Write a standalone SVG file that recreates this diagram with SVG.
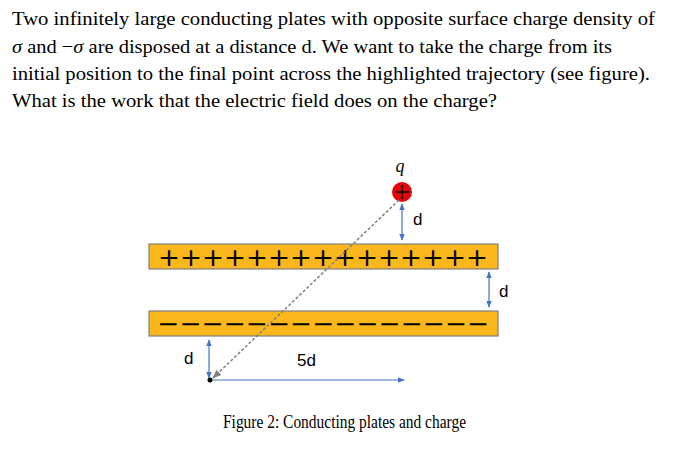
<svg xmlns="http://www.w3.org/2000/svg" width="700" height="449" viewBox="0 0 700 449">
<style>
.s{font-family:"Liberation Sans",Arial,sans-serif;font-size:17px;fill:#000}
.plate{fill:#f9b71c;stroke:#7f7f7f;stroke-width:1.2}
.dim{stroke:#4472c4;stroke-width:1.2;fill:none}
</style>
<defs>
<marker id="a" viewBox="0 0 10 10" refX="9" refY="5" markerWidth="6" markerHeight="6" orient="auto-start-reverse"><path d="M0,1 L10,5 L0,9 z" fill="#4472c4"/></marker>
<marker id="g" viewBox="0 0 10 10" refX="9" refY="5" markerWidth="6" markerHeight="6" orient="auto"><path d="M0,1 L10,5 L0,9 z" fill="#7f7f7f"/></marker>
</defs>
<rect width="700" height="449" fill="#fff"/>
<g font-family="Liberation Serif, Times New Roman, serif" font-size="19.5" fill="#000">
<text x="12" y="25" textLength="643" lengthAdjust="spacingAndGlyphs">Two infinitely large conducting plates with opposite surface charge density of</text>
<text x="12" y="53" textLength="600" lengthAdjust="spacingAndGlyphs"><tspan font-style="italic">σ</tspan> and −<tspan font-style="italic">σ</tspan> are disposed at a distance d. We want to take the charge from its</text>
<text x="12" y="80" textLength="638" lengthAdjust="spacingAndGlyphs">initial position to the final point across the highlighted trajectory (see figure).</text>
<text x="12" y="107" textLength="485" lengthAdjust="spacingAndGlyphs">What is the work that the electric field does on the charge?</text>
<text x="223" y="428" font-size="18.5" textLength="243" lengthAdjust="spacingAndGlyphs">Figure 2: Conducting plates and charge</text>
</g>
<g id="top-plate">
<rect class="plate" x="149" y="244" width="349" height="25"/>
<text x="323" y="266" font-family="DejaVu Sans, sans-serif" font-size="24" text-anchor="middle" textLength="330" lengthAdjust="spacingAndGlyphs">+++++++++++++++</text>
</g>
<g id="bottom-plate">
<rect class="plate" x="149" y="311" width="349" height="25"/>
<text x="323" y="332" font-family="DejaVu Sans, sans-serif" font-size="24" text-anchor="middle" textLength="332" lengthAdjust="spacingAndGlyphs">−−−−−−−−−−−−−−−</text>
</g>
<g id="charge">
<circle cx="402" cy="192" r="10" fill="#e8000b"/>
<path d="M395,192 H409 M402,185 V199" stroke="#000" stroke-width="1.5"/>
<text x="400" y="172" font-family="Liberation Serif, serif" font-style="italic" font-size="18" text-anchor="middle">q</text>
</g>
<g id="end-point"><circle cx="210" cy="380" r="2.5" fill="#000"/></g>
<g id="connectors">
<line x1="399" y1="200" x2="213" y2="378" stroke="#7f7f7f" stroke-width="1.5" stroke-dasharray="3,2" marker-end="url(#g)"/>
<line class="dim" x1="402" y1="204" x2="402" y2="240" marker-start="url(#a)" marker-end="url(#a)"/>
<line class="dim" x1="489" y1="272" x2="489" y2="307" marker-start="url(#a)" marker-end="url(#a)"/>
<line class="dim" x1="209" y1="340" x2="209" y2="378" marker-start="url(#a)" marker-end="url(#a)"/>
<line class="dim" x1="213" y1="380" x2="404" y2="380" marker-end="url(#a)"/>
</g>
<text class="s" x="413" y="225">d</text>
<text class="s" x="499" y="297">d</text>
<text class="s" x="184" y="364">d</text>
<text class="s" x="297" y="366">5d</text>
</svg>
